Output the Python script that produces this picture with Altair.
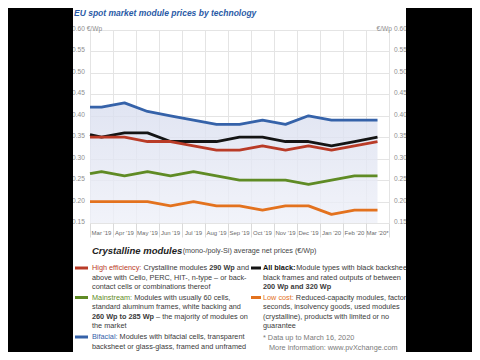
import altair as alt
import pandas as pd

# ---------------- data ----------------
months = ["Mar '19", "Apr '19", "May '19", "Jun '19", "Jul '19", "Aug '19", "Sep '19",
          "Oct '19", "Nov '19", "Dec '19", "Jan '20", "Feb '20", "Mar '20*"]
series_names = ["Bifacial", "All black", "High efficiency", "Mainstream", "Low cost"]
series_colors = ["#3562a9", "#141414", "#b93b27", "#5f8b25", "#e3721e"]
bifacial = [0.42, 0.43, 0.41, 0.40, 0.39, 0.38, 0.38, 0.39, 0.38, 0.40, 0.39, 0.39, 0.39]
all_black = [0.35, 0.36, 0.36, 0.34, 0.34, 0.34, 0.35, 0.35, 0.34, 0.34, 0.33, 0.34, 0.35]
high_efficiency = [0.35, 0.35, 0.34, 0.34, 0.33, 0.32, 0.32, 0.33, 0.32, 0.33, 0.32, 0.33, 0.34]
mainstream = [0.27, 0.26, 0.27, 0.26, 0.27, 0.26, 0.25, 0.25, 0.25, 0.24, 0.25, 0.26, 0.26]
low_cost = [0.20, 0.20, 0.20, 0.19, 0.20, 0.19, 0.19, 0.18, 0.19, 0.19, 0.17, 0.18, 0.18]
# where each line begins at the left edge of the plot
start_values = [0.42, 0.356, 0.35, 0.265, 0.20]
y_ticks = [0.15, 0.20, 0.25, 0.30, 0.35, 0.40, 0.45, 0.50, 0.55, 0.60]

title_text = "EU spot market module prices  by technology"
header_bold = "Crystalline modules"
header_rest = " (mono-/poly-Si) average net prices (€/Wp)"

# ---------------- styling helpers ----------------
FONT = "Liberation Sans, Arial, sans-serif"
TXT = "#3a3a3a"
_groups = [("'", 191), ("ijl", 222), (" ,./:;!I[]ft", 278), ("()-r", 333), ("*", 389),
           ("cksvxyzJ", 500), ("+<>=", 584), ("FTZ", 611), ("ABEKPSVXY&", 667),
           ("CDHNRUw", 722), ("GOQ", 778), ("mM", 833), ("%", 889), ("W", 944)]
WIDTHS = {c: w for chars, w in _groups for c in chars}
_bold = [("ij ", 278), ("ft:", 333), ("r", 389), ("z", 500), ("acesvxyk", 556),
         ("bdghnopqu", 611), ("ABCDHNRU", 722), ("w", 778), ("m", 889), ("W", 944)]
BOLD = {c: w for chars, w in _bold for c in chars}


def tw(s, size, bold=False):
    tot = sum((BOLD[c] if bold and c in BOLD else WIDTHS.get(c, 556)) for c in s)
    return tot * size / 1000.0


# plot area origin in the 480x360 picture
OX, OY = 90, 30
W, H = 299, 193

xs = alt.X("x:Q", scale=alt.Scale(domain=[0, 13], nice=False, zero=False),
           axis=alt.Axis(values=list(range(14)), grid=True, gridColor="#e4e4e4", gridWidth=1,
                         ticks=True, tickSize=14, tickColor="#dadada", labels=False,
                         domain=False, title=None))
ys = alt.Y("value:Q", scale=alt.Scale(domain=[0.15, 0.60], nice=False, zero=False),
           axis=alt.Axis(values=y_ticks, grid=True, gridColor="#e4e4e4", gridWidth=1,
                         ticks=False, labels=False, domain=False, title=None))

rows = []
all_series = [bifacial, all_black, high_efficiency, mainstream, low_cost]
for name, start, vals in zip(series_names, start_values, all_series):
    rows.append({"series": name, "x": 0.0, "value": start})
    for i, v in enumerate(vals):
        rows.append({"series": name, "x": i + 0.5, "value": v})
df = pd.DataFrame(rows)

area = alt.Chart(df[df.series == "Bifacial"]).mark_area(
    opacity=0.8,
    color=alt.Gradient(gradient="linear", x1=1, x2=1, y1=0, y2=1,
                       stops=[alt.GradientStop(color="#d9deef", offset=0),
                              alt.GradientStop(color="#eef0f8", offset=1)])
).encode(x=xs, y=ys, y2=alt.datum(0.15))

lines = alt.Chart(df).mark_line(strokeWidth=2.8, strokeJoin="round", strokeCap="butt").encode(
    x=xs, y=ys,
    color=alt.Color("series:N", scale=alt.Scale(domain=series_names, range=series_colors), legend=None),
)

YL = 6.6
df_y = pd.DataFrame({"value": y_ticks,
                     "left": ["%.2f" % v if v < 0.6 else "0.60 €/Wp" for v in y_ticks],
                     "right": ["%.2f" % v for v in y_ticks]})
ylab_left = alt.Chart(df_y).mark_text(align="left", baseline="middle", dy=-1, font=FONT,
                                      fontSize=YL, color="#8f8f8f").encode(
    x=alt.value(72 - OX), y=ys, text="left:N")
ylab_right = alt.Chart(df_y).mark_text(align="left", baseline="middle", dy=-1, font=FONT,
                                       fontSize=YL, color="#8f8f8f").encode(
    x=alt.value(394 - OX), y=ys, text="right:N")
unit_right = alt.Chart(pd.DataFrame({"value": [0.60], "t": ["€/Wp"]})).mark_text(
    align="right", baseline="middle", dy=-1, font=FONT, fontSize=YL, color="#8f8f8f").encode(
    x=alt.value(392 - OX), y=ys, text="t:N")

df_x = pd.DataFrame({"x": [i + 0.5 for i in range(len(months))], "label": months})
xlab = alt.Chart(df_x).mark_text(baseline="middle", font=FONT, fontSize=6, color="#6b6b6b").encode(
    x=xs, y=alt.value(233 - OY), text="label:N")

layers = [area, lines, ylab_left, ylab_right, unit_right, xlab]


def text_layer(t, px, py, size, style, color):
    kw = {}
    if "bold" in style:
        kw["fontWeight"] = "bold"
    if "italic" in style:
        kw["fontStyle"] = "italic"
    return alt.Chart(alt.Data(values=[{"t": t}])).mark_text(
        align="left", baseline="middle", font=FONT, fontSize=size, color=color, **kw
    ).encode(x=alt.value(px), y=alt.value(py), text="t:N")


def add_line(x0, y0, segs, size):
    x = x0
    for t, style, color in segs:
        lead = len(t) - len(t.lstrip(" "))
        bold = "bold" in style
        if t.strip():
            layers.append(text_layer(t.strip(), x + tw(" " * lead, size, bold) - OX, y0 - OY,
                                     size, style, color))
        x += tw(t, size, bold)


# title
add_line(74, 12.5, [(title_text, "bolditalic", "#2a5aa6")], 8.5)
# header
add_line(92, 251, [(header_bold, "bolditalic", "#222222")], 9.5)
add_line(92 + tw(header_bold, 9.5, True), 251, [(header_rest, "regular", "#444444")], 7.2)

S = 7.3
legend_left = [
    (268, [("High efficiency:", "regular", series_colors[2]), (" Crystalline modules ", "regular", TXT),
           ("290 Wp", "bold", TXT), (" and", "regular", TXT)]),
    (277.5, [("above with Cello, PERC, HIT-, n-type – or back-", "regular", TXT)]),
    (287, [("contact cells or combinations thereof", "regular", TXT)]),
    (297.5, [("Mainstream:", "regular", series_colors[3]), (" Modules with usually 60 cells,", "regular", TXT)]),
    (307, [("standard aluminum frames, white backing and", "regular", TXT)]),
    (316.5, [("260 Wp to 285 Wp", "bold", TXT), (" – the majority of modules on", "regular", TXT)]),
    (326, [("the market", "regular", TXT)]),
    (337, [("Bifacial:", "regular", series_colors[0]), (" Modules with bifacial cells, transparent", "regular", TXT)]),
    (346.5, [("backsheet or glass-glass, framed and unframed", "regular", TXT)]),
]
legend_right = [
    (268, [("All black:", "bold", "#111111"), (" Module types with black backsheets,", "regular", TXT)]),
    (277.5, [("black frames and rated outputs of between", "regular", TXT)]),
    (287, [("200 Wp and 320 Wp", "bold", TXT)]),
    (297.5, [("Low cost:", "regular", series_colors[4]), (" Reduced-capacity modules, factory", "regular", TXT)]),
    (307, [("seconds, insolvency goods, used modules", "regular", TXT)]),
    (316.5, [("(crystalline), products with limited or no", "regular", TXT)]),
    (326, [("guarantee", "regular", TXT)]),
]
notes = [(263, 338, "* Data up to March 16, 2020"), (269, 347.5, "More information: www.pvXchange.com")]
dash_left = [(268, series_colors[2]), (297.5, series_colors[3]), (337, series_colors[0])]
dash_right = [(268, series_colors[1]), (297.5, series_colors[4])]

for y0, segs in legend_left:
    add_line(92, y0, segs, S)
for y0, segs in legend_right:
    add_line(263, y0, segs, S)
for x0, y0, t in notes:
    add_line(x0, y0, [(t, "regular", "#7a7a7a")], S)


def dash(x1, x2, y, color):
    return alt.Chart(alt.Data(values=[{}])).mark_rule(strokeWidth=3, color=color).encode(
        x=alt.value(x1 - OX), x2=alt.value(x2 - OX), y=alt.value(y - OY))


for y0, c in dash_left:
    layers.append(dash(75, 88, y0, c))
for y0, c in dash_right:
    layers.append(dash(251, 261, y0, c))


def bar(x1, x2):
    return alt.Chart(alt.Data(values=[{}])).mark_rect(color="black").encode(
        x=alt.value(x1 - OX), x2=alt.value(x2 - OX), y=alt.value(-40), y2=alt.value(360))


layers.append(bar(-10, 73))
layers.append(bar(406, 500))

chart = alt.layer(*layers).properties(
    width=W, height=H,
    autosize=alt.AutoSizeParams(type="none"),
    padding={"left": OX - 8, "top": OY - 8, "right": 464 - (OX - 8) - W, "bottom": 344 - (OY - 8) - H},
    background="white",
).configure_view(stroke=None)

chart.save("out.html", embed_options={"renderer": "svg", "actions": False})
